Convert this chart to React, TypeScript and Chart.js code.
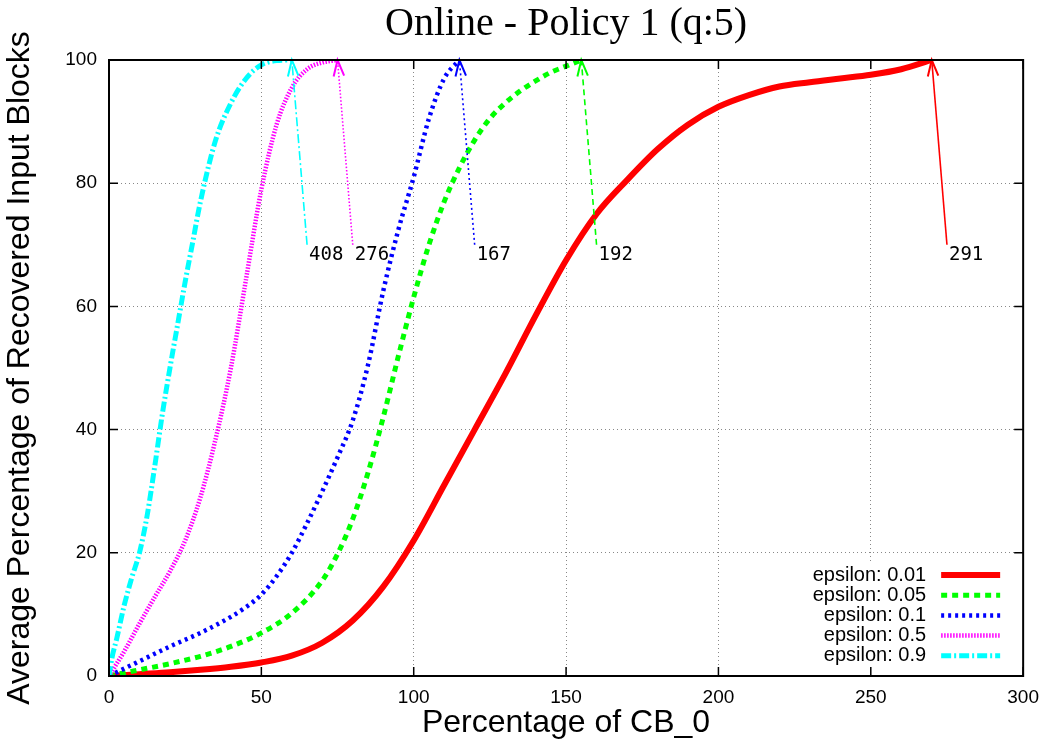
import React, { useEffect, useRef } from "react";
import { Chart, registerables } from "chart.js";

Chart.register(...registerables);

const chartTitle = "Online - Policy 1 (q:5)";
const xAxisTitle = "Percentage of CB_0";
const yAxisTitle = "Average Percentage of Recovered Input Blocks";

const seriesLabels = ["epsilon: 0.01", "epsilon: 0.05", "epsilon: 0.1", "epsilon: 0.5", "epsilon: 0.9"];
const seriesColors = ["#ff0000", "#00ff00", "#0000ff", "#ff00ff", "#00ffff"];

const eps001X = [0, 10, 20, 30, 40, 50, 60, 70, 80, 90, 100, 110, 120, 130, 140, 150, 160, 170, 180, 190, 200, 210, 220, 230, 240, 250, 260, 270];
const eps001Y = [0, 0.3, 0.6, 1.0, 1.5, 2.2, 3.3, 5.4, 9.0, 14.5, 22, 31, 40, 49, 58.5, 67.5, 75, 80.5, 85.5, 89.5, 92.4, 94.3, 95.7, 96.4, 97, 97.6, 98.5, 100];

const eps005X = [0, 10, 20, 30, 40, 50, 60, 70, 75, 80, 85, 90, 95, 100, 105, 110, 115, 120, 125, 130, 135, 140, 145, 150, 155];
const eps005Y = [0, 1, 2, 3.2, 4.8, 7, 10.2, 15.5, 19.8, 25.5, 33, 42, 52, 61.5, 70, 77, 82.5, 87, 90.5, 93, 95, 96.6, 98, 99, 100];

const eps01X = [0, 10, 20, 30, 40, 45, 50, 55, 60, 65, 70, 75, 80, 85, 90, 95, 100, 105, 110, 115];
const eps01Y = [0, 2.4, 4.8, 7, 9.6, 11.2, 13.2, 16.2, 20, 24.8, 30, 35.5, 41.5, 50.5, 62.5, 72.5, 81, 90.5, 97, 100];

const eps05X = [0, 5, 10, 15, 20, 25, 30, 35, 40, 45, 50, 55, 60, 65, 70, 75];
const eps05Y = [0, 4, 8.5, 12.8, 17, 22, 29, 38.5, 50, 64.5, 79, 89.5, 95.5, 98.5, 99.6, 100];

const eps09X = [0, 1, 2.5, 5, 7.5, 10, 12.5, 15, 17.5, 20, 22.5, 25, 27.5, 30, 35, 40, 45, 50, 55, 60];
const eps09Y = [0, 3, 6, 11.5, 16, 20, 26, 34, 42.5, 50, 57, 64, 70.5, 77, 87, 93, 97, 99.2, 99.9, 100];

const arrowTailX = [275, 160, 120, 80, 65];
const arrowTailY = [70, 70, 70, 70, 70];
const arrowHeadX = [270, 155, 115, 75, 60];
const arrowHeadY = [100, 100, 100, 100, 100];
const arrowLabels = ["291", "192", "167", "276", "408"];

const xTicks = [0, 50, 100, 150, 200, 250, 300];
const yTicks = [0, 20, 40, 60, 80, 100];

const seriesWidths = [6, 5, 4.5, 4.5, 5];
const seriesDashes: number[][] = [[], [6, 5], [3, 4], [1.5, 1.5], [10, 3, 2, 3]];
const arrowDashes: number[][] = [[], [6, 4], [2, 3], [1.5, 2], [9, 3, 2, 3]];

const seriesX = [eps001X, eps005X, eps01X, eps05X, eps09X];
const seriesY = [eps001Y, eps005Y, eps01Y, eps05Y, eps09Y];

const SANS = '"Liberation Sans", Arial, Helvetica, sans-serif';

const decorPlugin = {
  id: "gnuplotDecor",
  afterDatasetsDraw(chart: any) {
    const { ctx, chartArea: a, scales } = chart;
    const xs = scales.x;
    const ys = scales.y;
    ctx.save();

    // arrow heads and labels
    for (let i = 0; i < arrowLabels.length; i++) {
      const meta = chart.getDatasetMeta(seriesLabels.length + i);
      const p0 = meta.data[0];
      const p1 = meta.data[1];
      const ang = Math.atan2(p1.y - p0.y, p1.x - p0.x);
      const len = 17;
      const spread = (18 * Math.PI) / 180;
      ctx.strokeStyle = seriesColors[i];
      ctx.lineWidth = 2;
      ctx.setLineDash([]);
      ctx.beginPath();
      ctx.moveTo(p1.x + len * Math.cos(ang + Math.PI - spread), p1.y + len * Math.sin(ang + Math.PI - spread));
      ctx.lineTo(p1.x, p1.y);
      ctx.lineTo(p1.x + len * Math.cos(ang + Math.PI + spread), p1.y + len * Math.sin(ang + Math.PI + spread));
      ctx.stroke();
      ctx.fillStyle = "#000";
      ctx.font = '19px "DejaVu Sans Mono", monospace';
      ctx.textAlign = "left";
      ctx.textBaseline = "top";
      ctx.fillText(arrowLabels[i], p0.x + 2, p0.y + 1);
    }

    // legend box (opaque)
    ctx.fillStyle = "#fff";
    ctx.fillRect(a.right - 222, a.bottom - 113, 221, 112);
    ctx.font = "20px " + SANS;
    ctx.textAlign = "right";
    ctx.textBaseline = "middle";
    for (let i = 0; i < seriesLabels.length; i++) {
      const yy = a.bottom - 101 + i * 20.2;
      ctx.fillStyle = "#000";
      ctx.fillText(seriesLabels[i], a.right - 97, yy);
      ctx.strokeStyle = seriesColors[i];
      ctx.lineWidth = seriesWidths[i];
      ctx.setLineDash(seriesDashes[i]);
      ctx.lineCap = "butt";
      ctx.beginPath();
      ctx.moveTo(a.right - 82, yy);
      ctx.lineTo(a.right - 23, yy);
      ctx.stroke();
    }
    ctx.setLineDash([]);

    // inner tick marks (mirrored)
    ctx.strokeStyle = "#000";
    ctx.lineWidth = 1.5;
    const tl = 9;
    for (const v of xTicks) {
      const px = xs.getPixelForValue(v);
      ctx.beginPath();
      ctx.moveTo(px, a.bottom);
      ctx.lineTo(px, a.bottom - tl);
      ctx.moveTo(px, a.top);
      ctx.lineTo(px, a.top + tl);
      ctx.stroke();
    }
    for (const v of yTicks) {
      const py = ys.getPixelForValue(v);
      ctx.beginPath();
      ctx.moveTo(a.left, py);
      ctx.lineTo(a.left + tl, py);
      ctx.moveTo(a.right, py);
      ctx.lineTo(a.right - tl, py);
      ctx.stroke();
    }

    // plot border
    ctx.lineWidth = 2;
    ctx.strokeRect(a.left, a.top, a.right - a.left, a.bottom - a.top);
    ctx.restore();
  },
};

export default function App() {
  const canvasRef = useRef<HTMLCanvasElement | null>(null);

  useEffect(() => {
    const canvas = canvasRef.current;
    if (!canvas) return;

    const curveSets = seriesLabels.map((label, i) => ({
      label,
      data: seriesX[i].map((x, j) => ({ x, y: seriesY[i][j] })),
      borderColor: seriesColors[i],
      backgroundColor: seriesColors[i],
      borderWidth: seriesWidths[i],
      borderDash: seriesDashes[i],
      borderCapStyle: "butt" as const,
      pointRadius: 0,
      fill: false,
      cubicInterpolationMode: "monotone" as const,
      order: seriesLabels.length - i,
    }));

    const arrowSets = arrowLabels.map((label, i) => ({
      label: "arrow " + label,
      data: [
        { x: arrowTailX[i], y: arrowTailY[i] },
        { x: arrowHeadX[i], y: arrowHeadY[i] },
      ],
      borderColor: seriesColors[i],
      borderWidth: 1.6,
      borderDash: arrowDashes[i],
      pointRadius: 0,
      fill: false,
      tension: 0,
      order: 0,
    }));

    const chart = new Chart(canvas, {
      type: "line",
      data: { datasets: [...curveSets, ...arrowSets] as any },
      plugins: [decorPlugin],
      options: {
        responsive: false,
        animation: false,
        devicePixelRatio: 1,
        events: [],
        layout: { padding: { top: 0, right: 24, bottom: 0, left: 0 } },
        plugins: {
          legend: { display: false },
          tooltip: { enabled: false },
          title: {
            display: true,
            fullSize: false,
            text: chartTitle,
            color: "#000",
            font: { family: '"Liberation Serif", "Times New Roman", serif', size: 40, weight: "normal", lineHeight: 1.2 },
            padding: { top: 0, bottom: 12 },
          },
        },
        scales: {
          x: {
            type: "linear",
            min: 0,
            max: 300,
            afterBuildTicks: (s: any) => {
              s.ticks = xTicks.map((v) => ({ value: v }));
            },
            afterFit: (s: any) => {
              s.height = 68;
            },
            grid: { color: "#888", lineWidth: 1, drawTicks: false },
            border: { display: false, dash: [1, 3] },
            ticks: {
              color: "#000",
              padding: 10,
              maxRotation: 0,
              font: { family: SANS, size: 19 },
            },
            title: {
              display: true,
              text: xAxisTitle,
              color: "#000",
              font: { family: SANS, size: 32 },
              padding: { top: 0, bottom: 2 },
            },
          },
          y: {
            type: "linear",
            min: 0,
            max: 100,
            afterBuildTicks: (s: any) => {
              s.ticks = yTicks.map((v) => ({ value: v }));
            },
            afterFit: (s: any) => {
              s.width = 109;
            },
            grid: { color: "#888", lineWidth: 1, drawTicks: false },
            border: { display: false, dash: [1, 3] },
            ticks: {
              color: "#000",
              padding: 12,
              font: { family: SANS, size: 19 },
            },
            title: {
              display: true,
              text: yAxisTitle,
              color: "#000",
              font: { family: SANS, size: 32 },
              padding: { top: 1, bottom: 0 },
            },
          },
        },
      } as any,
    });

    return () => {
      chart.destroy();
    };
  }, []);

  return (
    <div style={{ position: "fixed", left: 0, top: 0, width: 1049, height: 744, background: "#fff" }}>
      <canvas ref={canvasRef} width={1049} height={744} style={{ display: "block" }} />
    </div>
  );
}
